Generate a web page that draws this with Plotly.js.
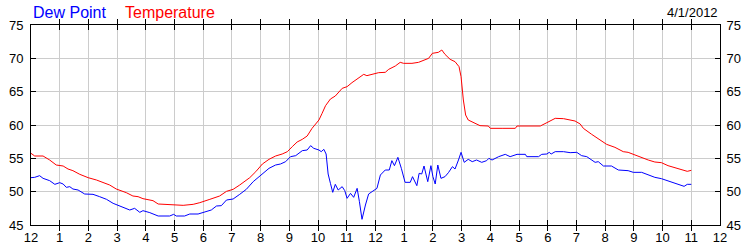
<!DOCTYPE html>
<html>
<head>
<meta charset="utf-8">
<script src="https://cdn.plot.ly/plotly-3.0.1.min.js"></script>
<style>html,body{margin:0;padding:0;background:#fff;}#chart{width:750px;height:250px;}</style>
</head>
<body>
<div id="chart"></div>
<script>
// Hours since midnight, 4/1/2012
const tempHours = [0,0.13,0.42,0.65,0.88,1.12,1.29,1.46,1.70,1.99,2.28,2.57,2.74,2.97,3.32,3.55,3.73,3.90,4.25,4.43,4.72,5.06,5.30,5.65,5.88,6.23,6.57,6.81,7.04,7.27,7.62,
  7.83,8.06,8.29,8.52,8.75,8.93,9.10,9.27,9.45,9.62,9.79,10.03,10.14,10.26,10.43,10.60,10.84,11.01,11.18,11.41,11.59,11.70,11.88,11.99,12.11,12.34,12.46,12.69,12.86,12.98,13.27,13.50,13.73,13.85,13.98,14.19,14.31,14.42,14.60,14.77,14.91,14.98,15.06,15.14,15.23,15.41,15.64,15.93,
  16.0,16.41,16.87,16.93,17.33,17.74,17.97,18.14,18.26,18.55,18.78,18.95,19.13,19.24,19.53,19.82,20.05,20.34,20.63,20.80,21.03,21.27,21.50,21.73,21.96,22.19,22.48,22.71,22.86,23.0];
const tempValues = [55.75,55.35,55.35,54.75,54.0,53.85,53.4,53.15,52.6,52.1,51.75,51.35,51.0,50.4,49.85,49.35,49.25,48.95,48.65,48.15,48.1,47.95,47.95,48.1,48.35,48.85,49.35,50.05,50.35,51.0,52.1,
  53.0,54.15,54.85,55.35,55.65,56.0,56.75,57.45,57.85,58.35,59.5,60.75,61.75,62.9,63.9,64.35,65.5,65.75,66.35,67.0,67.6,67.4,67.6,67.65,67.85,67.9,68.35,68.85,69.4,69.25,69.25,69.4,69.75,70.0,70.75,70.9,71.25,70.6,69.85,69.5,68.75,67.25,63.75,61.5,60.75,60.35,59.9,59.85,
  59.5,59.5,59.5,59.85,59.85,59.85,60.35,60.75,61.0,60.95,60.75,60.6,60.15,59.5,58.6,57.75,57.1,56.65,56.0,55.9,55.5,55.15,54.75,54.45,54.35,53.9,53.5,53.2,53.05,53.2];

const dewHours = [0,0.13,0.30,0.42,0.65,0.83,1.0,1.12,1.23,1.35,1.46,1.64,1.87,2.16,2.39,2.63,2.86,3.09,3.44,3.61,3.79,3.90,4.14,4.43,4.83,4.97,5.06,5.35,5.53,5.82,5.99,6.28,6.46,6.63,6.81,7.04,7.27,7.50,
  7.74,8.06,8.29,8.52,8.69,8.87,9.04,9.22,9.45,9.62,9.74,9.85,10.03,10.11,10.20,10.28,10.35,10.43,10.51,10.60,10.70,10.84,10.93,11.01,11.13,11.24,11.36,11.44,11.53,11.65,11.76,11.88,12.05,12.17,12.34,12.48,12.57,12.66,12.78,12.90,13.03,13.21,13.29,13.44,13.52,13.61,13.69,13.82,13.93,14.00,14.08,14.17,14.28,14.42,14.54,14.68,14.77,14.89,14.98,15.09,15.23,15.37,15.52,15.70,15.87,15.95,
  16.06,16.29,16.52,16.69,16.93,17.22,17.27,17.68,17.79,17.97,18.05,18.12,18.26,18.55,18.78,19.01,19.18,19.36,19.65,19.76,19.94,20.22,20.46,20.80,20.98,21.27,21.50,21.73,21.96,22.25,22.48,22.75,22.86,23.0];
const dewValues = [52.1,52.15,52.4,52.0,51.65,51.1,51.35,51.15,50.65,50.75,50.4,50.25,49.65,49.6,49.25,48.85,48.25,47.85,47.25,47.5,46.9,47.15,46.85,46.35,46.35,46.6,46.35,46.35,46.65,46.65,46.9,47.25,47.85,47.9,48.75,48.9,49.6,50.35,
  51.5,52.65,53.5,54.0,54.15,54.5,55.25,55.4,56.15,56.25,56.9,56.5,56.25,56.0,56.35,55.65,52.65,51.25,49.9,51.1,50.25,50.75,50.15,49.0,49.75,49.15,50.5,48.5,45.85,48.0,49.65,50.0,50.5,52.5,53.25,53.25,54.65,53.9,55.15,53.5,51.4,51.4,52.25,50.9,52.75,52.65,53.85,51.5,53.9,52.25,51.15,54.0,52.0,52.25,52.85,53.75,53.4,54.75,55.9,54.4,54.85,54.5,54.75,54.4,54.65,55.0,
  54.75,55.25,55.6,55.25,55.6,55.6,55.25,55.25,55.6,55.65,55.9,55.65,56.0,56.0,55.85,55.9,55.4,55.25,54.4,54.5,53.85,53.85,53.25,53.15,52.9,52.9,52.5,52.15,51.95,51.5,51.25,50.8,51.1,51.1];

const hourTicks = [0,1,2,3,4,5,6,7,8,9,10,11,12,13,14,15,16,17,18,19,20,21,22,23,24];
const hourLabels = ["12","1","2","3","4","5","6","7","8","9","10","11","12","1","2","3","4","5","6","7","8","9","10","11","12"];
const yTicks = [45,50,55,60,65,70,75];
const seriesNames = ["Dew Point","Temperature"];
const dateLabel = "4/1/2012";

const FONT = "Liberation Sans, Arial, sans-serif";

const traces = [
  {x: dewHours, y: dewValues, name: seriesNames[0], type: "scatter", mode: "lines", line: {color: "#0000ff", width: 1}},
  {x: tempHours, y: tempValues, name: seriesNames[1], type: "scatter", mode: "lines", line: {color: "#ff0000", width: 1}}
];

const axisCommon = {
  showline: true, linecolor: "#000", linewidth: 1,
  ticks: "inside", ticklen: 5, tickcolor: "#000", tickwidth: 1,
  tickfont: {family: FONT, size: 13, color: "#000"},
  zeroline: false, fixedrange: true
};

const layout = {
  width: 750, height: 250,
  margin: {l: 31, r: 30, t: 25, b: 25, pad: 0},
  paper_bgcolor: "#fff", plot_bgcolor: "#fff",
  showlegend: false,
  font: {family: FONT, size: 13, color: "#000"},
  xaxis: Object.assign({}, axisCommon, {
    range: [0, 24], tickmode: "array", tickvals: hourTicks, ticktext: hourLabels,
    showgrid: true, gridcolor: "#cccccc", gridwidth: 1, mirror: "allticks"
  }),
  yaxis: Object.assign({}, axisCommon, {
    range: [45, 75], tickmode: "array", tickvals: yTicks, ticktext: yTicks.map(String),
    showgrid: true, gridcolor: "#cccccc", gridwidth: 1, mirror: "allticks", ticklabelstandoff: 4
  }),
  yaxis2: Object.assign({}, axisCommon, {
    range: [45, 75], tickmode: "array", tickvals: yTicks, ticktext: yTicks.map(String),
    overlaying: "y", side: "right", showgrid: false, ticklabelstandoff: 3
  }),
  annotations: [
    {xref: "paper", yref: "paper", x: 0, y: 1, xanchor: "left", yanchor: "bottom", xshift: 0, yshift: 2,
     text: seriesNames[0], showarrow: false, font: {family: FONT, size: 16, color: "#0000ff"}},
    {xref: "paper", yref: "paper", x: 0.134, y: 1, xanchor: "left", yanchor: "bottom", xshift: 0, yshift: 2,
     text: seriesNames[1], showarrow: false, font: {family: FONT, size: 16, color: "#ff0000"}},
    {xref: "paper", yref: "paper", x: 1, y: 1, xanchor: "right", yanchor: "bottom", xshift: 0, yshift: 3,
     text: dateLabel, showarrow: false, font: {family: FONT, size: 13, color: "#000"}}
  ]
};

traces.push({x: [0], y: [45], yaxis: "y2", type: "scatter", mode: "markers", marker: {opacity: 0}, hoverinfo: "skip", showlegend: false});

Plotly.newPlot("chart", traces, layout, {staticPlot: true, displayModeBar: false});
</script>
</body>
</html>
